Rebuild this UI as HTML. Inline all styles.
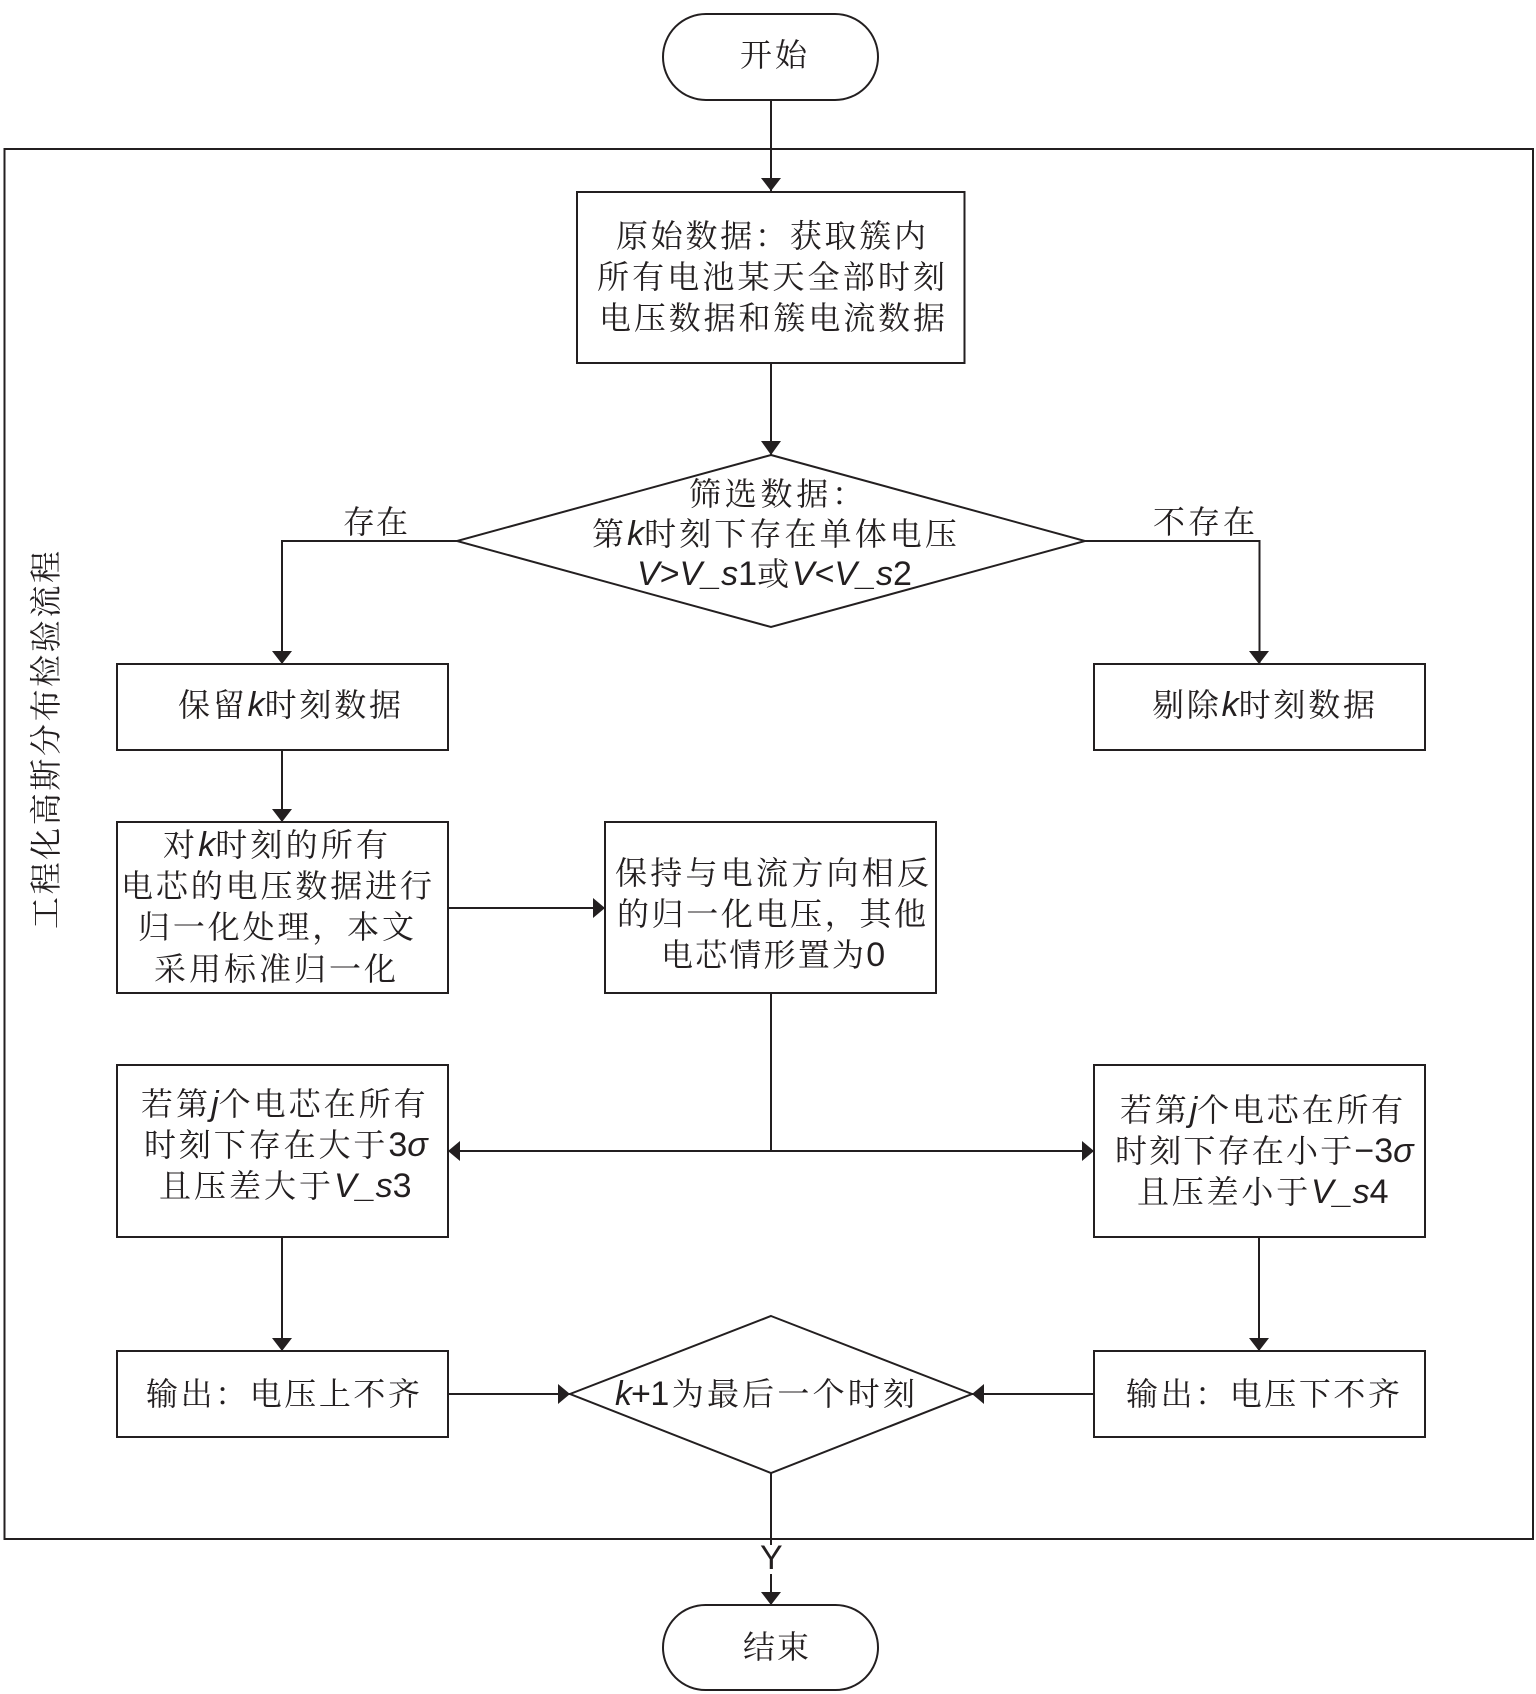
<!DOCTYPE html>
<html><head><meta charset="utf-8">
<style>
html,body{margin:0;padding:0;background:#fff}
svg{display:block}
text{font-family:"Liberation Sans","Noto Serif CJK SC",serif;font-size:32px;fill:#231f20;font-weight:400}
.e{font-size:34px;letter-spacing:0}
.i{font-style:italic;font-size:34px;letter-spacing:0}
.s{fill:#fff;stroke:#231f20;stroke-width:2}
.l{fill:none;stroke:#231f20;stroke-width:2}
.a{fill:#231f20}
</style></head><body>
<svg xmlns="http://www.w3.org/2000/svg" width="1536" height="1694" viewBox="0 0 1536 1694">
<rect width="1536" height="1694" fill="#fff"/>
<rect class="l" x="4.500" y="149" width="1528.500" height="1390"/>
<rect class="s" x="663" y="14" width="215" height="86" rx="43" ry="43"/>
<rect class="s" x="663" y="1605" width="215" height="85" rx="42.500" ry="42.500"/>
<path class="l" d="M771 100V191M771 363V455M457 541H282V664M1085 541H1259.500V664M282 750V821M448 908H605M771 993V1151M448 1151H1094M282 1237V1351M1259 1237V1351M448 1394H571M972 1394H1094M771 1473V1545M771 1574V1605"/>
<rect class="s" x="577" y="192" width="387.500" height="171"/>
<polygon class="s" points="771,455 1085,541 771,627 457,541"/>
<rect class="s" x="117" y="664" width="331" height="86"/>
<rect class="s" x="1094" y="664" width="331" height="86"/>
<rect class="s" x="117" y="822" width="331" height="171"/>
<rect class="s" x="605" y="822" width="331" height="171"/>
<rect class="s" x="117" y="1065" width="331" height="172"/>
<rect class="s" x="1094" y="1065" width="331" height="172"/>
<rect class="s" x="117" y="1351" width="331" height="86"/>
<rect class="s" x="1094" y="1351" width="331" height="86"/>
<polygon class="s" points="771,1316 972,1394 771,1473 570,1394"/>
<polygon class="a" points="771,191 761,178 781,178"/>
<polygon class="a" points="771,455 761,441 781,441"/>
<polygon class="a" points="282,664 272,651 292,651"/>
<polygon class="a" points="1259,664 1249,651 1269,651"/>
<polygon class="a" points="282,822 272,809 292,809"/>
<polygon class="a" points="605,908 593,898 593,918"/>
<polygon class="a" points="448,1151 460,1141 460,1161"/>
<polygon class="a" points="1094,1151 1082,1141 1082,1161"/>
<polygon class="a" points="282,1351 272,1338 292,1338"/>
<polygon class="a" points="1259,1351 1249,1338 1269,1338"/>
<polygon class="a" points="570,1394 558,1384 558,1404"/>
<polygon class="a" points="972,1394 984,1384 984,1404"/>
<polygon class="a" points="771,1605 761,1592 781,1592"/>

<text x="740" y="66" textLength="67">开始</text>
<text x="743" y="1658" textLength="66">结束</text>
<text x="760" y="1569" style="font-size:34px">Y</text>

<text x="616" y="247" textLength="310">原始数据：获取簇内</text>
<text x="597" y="288" textLength="348">所有电池某天全部时刻</text>
<text x="599" y="329" textLength="346">电压数据和簇电流数据</text>

<text x="689" y="505" textLength="175">筛选数据：</text>
<text x="592" y="545" style="letter-spacing:3.100px">第<tspan class="i">k</tspan>时刻下存在单体电压</text>
<text x="637" y="585" style="letter-spacing:2.800px"><tspan class="i">V</tspan><tspan class="e">&gt;</tspan><tspan class="i">V_s</tspan><tspan class="e">1</tspan>或<tspan class="i">V</tspan><tspan class="e">&lt;</tspan><tspan class="i">V_s</tspan><tspan class="e">2</tspan></text>

<text x="343" y="533" textLength="65">存在</text>
<text x="1153" y="533" textLength="102">不存在</text>

<text x="178" y="716" style="letter-spacing:2.800px">保留<tspan class="i">k</tspan>时刻数据</text>
<text x="1152" y="716" style="letter-spacing:2.800px">剔除<tspan class="i">k</tspan>时刻数据</text>

<text x="163" y="856" style="letter-spacing:3.200px">对<tspan class="i">k</tspan>时刻的所有</text>
<text x="121" y="897" textLength="311">电芯的电压数据进行</text>
<text x="138" y="938" textLength="276">归一化处理，本文</text>
<text x="154" y="980" textLength="242">采用标准归一化</text>

<text x="615" y="884" textLength="314">保持与电流方向相反</text>
<text x="617" y="925" textLength="309">的归一化电压，其他</text>
<text x="661" y="966" style="letter-spacing:2.200px">电芯情形置为<tspan class="e">0</tspan></text>

<text x="141" y="1115" style="letter-spacing:3px">若第<tspan class="i">j</tspan>个电芯在所有</text>
<text x="144" y="1156" style="letter-spacing:2.900px">时刻下存在大于<tspan class="e">3</tspan><tspan class="i">σ</tspan></text>
<text x="159" y="1197" style="letter-spacing:3px">且压差大于<tspan class="i">V_s</tspan><tspan class="e">3</tspan></text>

<text x="1120" y="1121" style="letter-spacing:2.800px">若第<tspan class="i">j</tspan>个电芯在所有</text>
<text x="1115" y="1162" style="letter-spacing:2.200px">时刻下存在小于<tspan class="e">−3</tspan><tspan class="i">σ</tspan></text>
<text x="1137" y="1203" style="letter-spacing:2.800px">且压差小于<tspan class="i">V_s</tspan><tspan class="e">4</tspan></text>

<text x="146" y="1405" textLength="274">输出：电压上不齐</text>
<text x="1126" y="1405" textLength="274">输出：电压下不齐</text>
<text x="615" y="1405" style="letter-spacing:3.200px"><tspan class="i" style="letter-spacing:-1px">k</tspan><tspan class="e" style="letter-spacing:-0.500px">+1</tspan><tspan dx="3">为最后一个时刻</tspan></text>

<text transform="translate(57,929) rotate(-90)" textLength="378">工程化高斯分布检验流程</text>
</svg>
</body></html>
